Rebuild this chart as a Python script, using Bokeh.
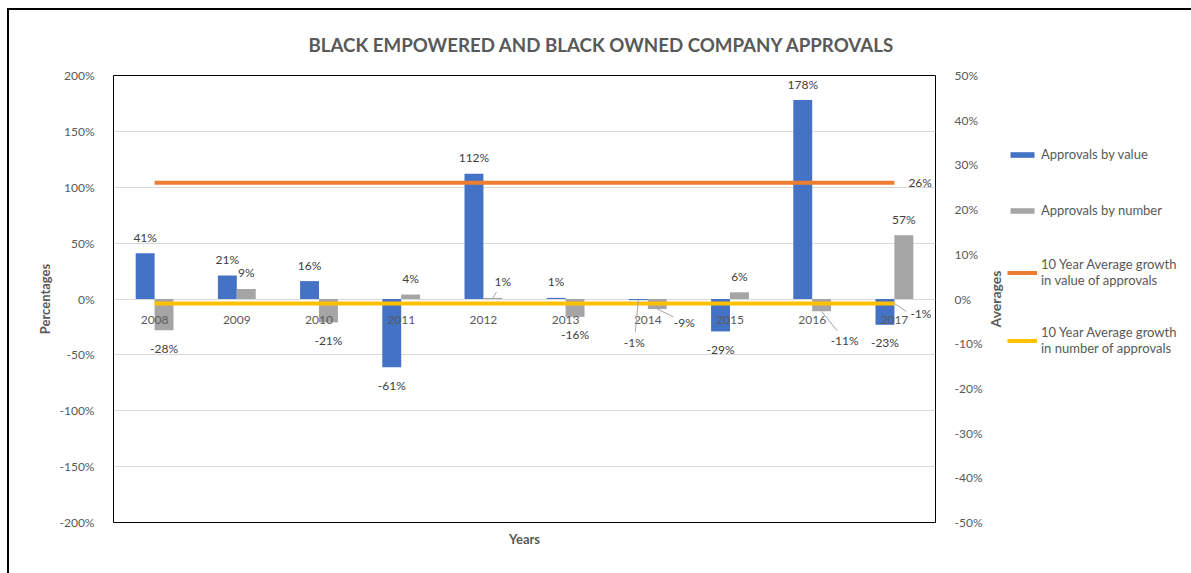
import math
import numpy as np
from bokeh.plotting import figure
from bokeh.layouts import row
from bokeh.models import (Range1d, LinearAxis, FixedTicker, PrintfTickFormatter,
                          Title, Legend, LegendItem, ColumnDataSource)
from bokeh.core.properties import value
from bokeh.embed import file_html
from bokeh.resources import INLINE

# ---------------- data ----------------
years = ["2008", "2009", "2010", "2011", "2012", "2013", "2014", "2015", "2016", "2017"]
approvals_by_value = [41, 21, 16, -61, 112, 1, -1, -29, 178, -23]
approvals_by_number = [-28, 9, -21, 4, 1, -16, -9, 6, -11, 57]
avg_growth_value = 26      # secondary axis
avg_growth_number = -1     # secondary axis
left_ticks = [-200, -150, -100, -50, 0, 50, 100, 150, 200]
right_ticks = [-50, -40, -30, -20, -10, 0, 10, 20, 30, 40, 50]
series_names = ["Approvals by value", "Approvals by number",
                "10 Year Average growth\nin value of approvals",
                "10 Year Average growth\nin number of approvals"]

# ---------------- style ----------------
FONT = "Lato"
BLUE, GRAY, ORANGE, YELLOW = "#4472C4", "#A5A5A5", "#ED7D31", "#FFC000"
AXIS_TXT, LBL_TXT = "#595959", "#404040"
FRAME_W, FRAME_H = 824, 447
TOP, BOTTOM = 65, 51
BAR_W = 0.23

n = len(years)
xc = np.arange(n) + 0.5
xv = xc - BAR_W / 2
xn = xc + BAR_W / 2

p = figure(width=976, height=563, x_range=Range1d(0, n), y_range=Range1d(-200, 200),
           output_backend="svg", toolbar_location=None, x_axis_type=None,
           min_border_left=104, min_border_right=48, min_border_top=TOP, min_border_bottom=BOTTOM)
p.outline_line_color = "black"
p.outline_line_width = 1
p.background_fill_color = "white"
p.border_fill_color = "white"

# title
p.title.text = "BLACK EMPOWERED AND BLACK OWNED COMPANY APPROVALS"
p.title.align = "left"
p.title.offset = 195
p.title.text_font = FONT
p.title.text_font_size = "18.7px"
p.title.text_font_style = "bold"
p.title.text_color = AXIS_TXT
p.title.standoff = 40

p.add_layout(Title(text="Years", align="center", text_font=FONT, text_font_size="13px",
                   text_font_style="bold", text_color=AXIS_TXT, standoff=13), "below")

# left axis
ya = p.yaxis[0]
ya.ticker = FixedTicker(ticks=left_ticks)
ya.formatter = PrintfTickFormatter(format="%d%%")
ya.axis_line_color = None
ya.major_tick_line_color = None
ya.minor_tick_line_color = None
ya.major_label_standoff = 13
ya.major_label_text_font = FONT
ya.major_label_text_font_size = "12px"
ya.major_label_text_color = AXIS_TXT
ya.axis_label = "Percentages"
ya.axis_label_text_font = FONT
ya.axis_label_text_font_size = "13px"
ya.axis_label_text_font_style = "bold"
ya.axis_label_text_color = AXIS_TXT
ya.axis_label_standoff = 4

p.ygrid.ticker = FixedTicker(ticks=left_ticks)
p.ygrid.grid_line_color = "#D9D9D9"
p.ygrid.grid_line_width = 1

# right axis (its title "Averages" is drawn in the side panel figure)
p.extra_y_ranges = {"avg": Range1d(-50, 50)}
ra = LinearAxis(y_range_name="avg", ticker=FixedTicker(ticks=right_ticks),
                formatter=PrintfTickFormatter(format="%d%%"))
ra.axis_line_color = None
ra.major_tick_line_color = None
ra.minor_tick_line_color = None
ra.major_label_standoff = 13
ra.major_label_text_font = FONT
ra.major_label_text_font_size = "12px"
ra.major_label_text_color = AXIS_TXT
p.add_layout(ra, "right")

# bars
src = ColumnDataSource(dict(xv=xv, xn=xn, val=approvals_by_value, num=approvals_by_number))
p.vbar(x="xv", top="val", bottom=0, width=BAR_W, source=src, fill_color=BLUE, line_color=None)
p.vbar(x="xn", top="num", bottom=0, width=BAR_W, source=src, fill_color=GRAY, line_color=None)

# average lines
p.line(x=xc, y=[avg_growth_value] * n, y_range_name="avg", line_color=ORANGE, line_width=4)
p.line(x=xc, y=[avg_growth_number] * n, y_range_name="avg", line_color=YELLOW, line_width=4)

# category labels next to the zero line
p.text(x=xc, y=[0] * n, text=years, y_offset=21, text_align="center", text_baseline="middle",
       text_font=value(FONT), text_font_size="12px", text_color=AXIS_TXT)

# data labels
ky = 400 / FRAME_H   # data units per px (left)
kx = n / FRAME_W
adj_value = {"2014": (-4, 24)}
adj_number = {"2012": (10, 0), "2014": (27, -5), "2016": (23, 11)}
leaders_x0, leaders_y0, leaders_x1, leaders_y1 = [], [], [], []


def label_set(xs, vals, adj):
    tx, ty, txt, dxs, dys = [], [], [], [], []
    for i, v in enumerate(vals):
        dy = -16 if v > 0 else 18
        dx = 0
        if years[i] in adj:
            ax, ay = adj[years[i]]
            dx += ax
            dy += ay
            L = math.hypot(dx, dy)
            gap = 10 if abs(dx) < 10 else 12
            f = (L - gap) / L
            leaders_x0.append(xs[i])
            leaders_y0.append(v)
            leaders_x1.append(xs[i] + dx * f * kx)
            leaders_y1.append(v - dy * f * ky)
        tx.append(xs[i]); ty.append(v); txt.append(f"{v}%"); dxs.append(dx); dys.append(dy)
    p.text(x=tx, y=ty, text=txt, x_offset=dxs, y_offset=dys, text_align="center",
           text_baseline="middle", text_font=value(FONT), text_font_size="12px",
           text_color=LBL_TXT)


label_set(xv, approvals_by_value, adj_value)
label_set(xn, approvals_by_number, adj_number)

p.segment(x0=leaders_x0, y0=leaders_y0, x1=leaders_x1, y1=leaders_y1,
          line_color="#A6A6A6", line_width=1)

# average line labels
p.text(x=[xc[-1]], y=[avg_growth_value], text=[f"{avg_growth_value}%"], x_offset=14,
       y_range_name="avg", text_align="left", text_baseline="middle",
       text_font=value(FONT), text_font_size="12px", text_color=LBL_TXT)
p.text(x=[xc[-1]], y=[avg_growth_number], text=[f"{avg_growth_number}%"], x_offset=16, y_offset=10,
       y_range_name="avg", text_align="left", text_baseline="middle",
       text_font=value(FONT), text_font_size="12px", text_color=LBL_TXT)
kya = 100 / FRAME_H
p.segment(x0=[xc[-1]], y0=[avg_growth_number], x1=[xc[-1] + 12 * kx], y1=[avg_growth_number - 8 * kya],
          y_range_name="avg", line_color="#A6A6A6", line_width=1)

# ---------------- side panel: secondary axis title + legend ----------------
SIDE_W = 206
lf = figure(width=SIDE_W, height=563, x_range=Range1d(0, SIDE_W), y_range=Range1d(FRAME_H, 0),
            output_backend="svg", toolbar_location=None, x_axis_type=None, y_axis_type=None,
            min_border_left=0, min_border_right=0, min_border_top=TOP, min_border_bottom=BOTTOM)
lf.outline_line_color = None
lf.background_fill_color = "white"
lf.border_fill_color = "white"
lf.grid.visible = False

# secondary axis title, centred on the plot frame's middle
lf.text(x=[10], y=[FRAME_H / 2], text=["Averages"], angle=math.pi / 2,
        text_align="center", text_baseline="middle", text_font=value(FONT),
        text_font_size="14px", text_font_style="bold", text_color=AXIS_TXT)

# hidden proxy renderers that only carry the legend styles
nan = [float("nan")]
g_val = lf.vbar(x=nan, top=nan, width=1, fill_color=BLUE, line_color=None)
g_num = lf.vbar(x=nan, top=nan, width=1, fill_color=GRAY, line_color=None)
g_avv = lf.line(x=nan, y=nan, line_color=ORANGE, line_width=4)
g_avn = lf.line(x=nan, y=nan, line_color=YELLOW, line_width=4)

legend = Legend(items=[LegendItem(label=lbl, renderers=[r]) for lbl, r in
                       zip(series_names, [g_val, g_num, g_avv, g_avn])],
                location=(22, 166))
legend.label_text_font = FONT
legend.label_text_font_size = "13px"
legend.label_text_color = AXIS_TXT
legend.label_text_line_height = 1.4
legend.glyph_width = 30
legend.glyph_height = 7
legend.label_standoff = 4
legend.label_height = 20
legend.spacing = 36
legend.padding = 0
legend.margin = 0
legend.border_line_color = None
legend.background_fill_alpha = 0
lf.add_layout(legend)

layout = row(p, lf)
layout.spacing = 0
layout.margin = (8, 0, 0, 7)
layout.styles = {"border-left": "2px solid #000", "border-top": "2px solid #000"}

open("out.html", "w").write(file_html(layout, INLINE))
